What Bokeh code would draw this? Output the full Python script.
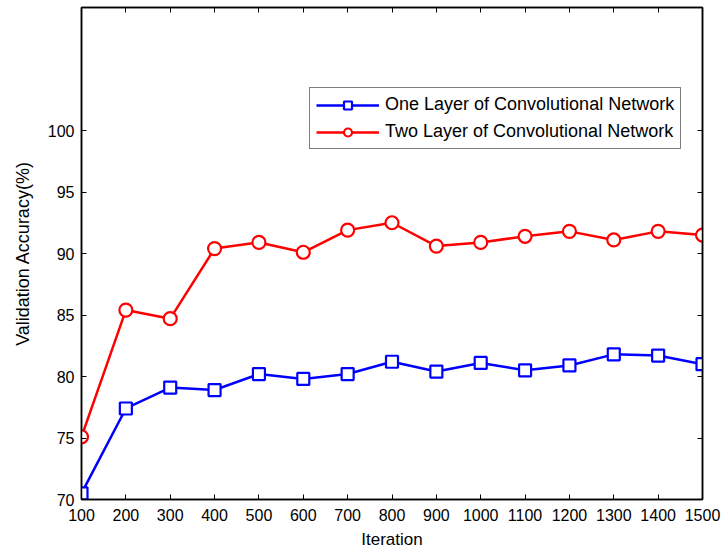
from bokeh.plotting import figure
from bokeh.models import (Range1d, FixedTicker, LinearAxis, Legend, LegendItem,
                          ColumnDataSource, CustomJSTickFormatter)
from bokeh.embed import file_html
from bokeh.resources import INLINE

iterations = [100, 200, 300, 400, 500, 600, 700, 800, 900, 1000, 1100, 1200, 1300, 1400, 1500]
one_layer = [70.5, 77.4, 79.1, 78.9, 80.2, 79.8, 80.2, 81.2, 80.4, 81.1, 80.5, 80.9, 81.8, 81.7, 81.0]
two_layer = [75.1, 85.4, 84.7, 90.4, 90.9, 90.1, 91.9, 92.5, 90.6, 90.9, 91.4, 91.8, 91.1, 91.8, 91.5]
x_ticks = list(range(100, 1501, 100))
y_ticks = [70, 75, 80, 85, 90, 95, 100]
label_one = "One Layer of Convolutional Network"
label_two = "Two Layer of Convolutional Network"
x_label = "Iteration"
y_label = "Validation Accuracy(%)"

FONT = "Liberation Sans"

p = figure(width=724, height=551, output_backend="svg", toolbar_location=None,
           x_range=Range1d(100, 1500), y_range=Range1d(70, 110),
           min_border_left=81, min_border_right=22, min_border_top=7, min_border_bottom=52,
           x_axis_label=x_label, y_axis_label=y_label)
p.background_fill_color = "white"
p.border_fill_color = "white"
p.outline_line_color = "black"
p.outline_line_width = 1.5
p.grid.visible = False

def style_axis(ax, ticks, show_labels=True):
    ax.ticker = FixedTicker(ticks=ticks)
    ax.major_tick_in = 5
    ax.major_tick_out = 0
    ax.minor_tick_line_color = None
    ax.axis_line_color = "black"
    ax.axis_line_width = 1.5
    ax.major_tick_line_color = "black"
    ax.major_tick_line_width = 1
    ax.major_label_text_font = FONT
    ax.major_label_text_font_size = "16px"
    ax.major_label_text_color = "black"
    ax.axis_label_text_font = FONT
    ax.axis_label_text_font_style = "normal"
    ax.axis_label_text_color = "black"
    if not show_labels:
        ax.formatter = CustomJSTickFormatter(code="return '';")
        ax.major_label_standoff = 0

style_axis(p.xaxis[0], x_ticks)
style_axis(p.yaxis[0], y_ticks)
p.xaxis[0].axis_label_text_font_size = "17px"
p.yaxis[0].axis_label_text_font_size = "18px"
p.xaxis[0].major_label_standoff = 9
p.xaxis[0].axis_label_standoff = 6
p.yaxis[0].major_label_standoff = 7
p.yaxis[0].axis_label_standoff = 12

top_ax = LinearAxis()
style_axis(top_ax, x_ticks, show_labels=False)
right_ax = LinearAxis()
style_axis(right_ax, y_ticks, show_labels=False)
p.add_layout(top_ax, "above")
p.add_layout(right_ax, "right")

src = ColumnDataSource(dict(x=iterations, one=one_layer, two=two_layer))

l1 = p.line("x", "one", source=src, line_color="#0000FF", line_width=2.5)
s1 = p.scatter("x", "one", source=src, marker="square", size=12,
               line_color="#0000FF", line_width=2.2, fill_color="white")
l2 = p.line("x", "two", source=src, line_color="#FF0000", line_width=2.5)
s2 = p.scatter("x", "two", source=src, marker="circle", size=13,
               line_color="#FF0000", line_width=2.2, fill_color="white")

legend = Legend(items=[LegendItem(label=label_one, renderers=[l1, s1]),
                       LegendItem(label=label_two, renderers=[l2, s2])],
                location=(228, 350))
legend.label_text_font = FONT
legend.label_text_font_size = "18px"
legend.label_text_color = "black"
legend.glyph_width = 63
legend.glyph_height = 20
legend.label_height = 20
legend.label_standoff = 6
legend.padding = 6
legend.spacing = 6
legend.margin = 0
legend.border_line_color = "black"
legend.border_line_width = 1.5
legend.background_fill_color = "white"
legend.background_fill_alpha = 1
p.add_layout(legend, "center")

open("out.html", "w").write(file_html(p, INLINE))
